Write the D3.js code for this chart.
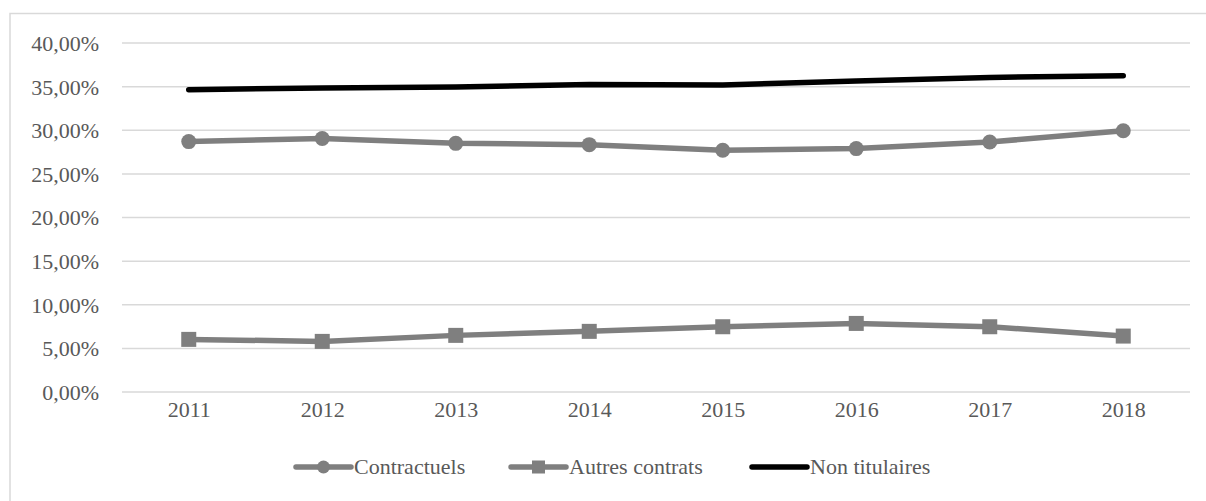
<!DOCTYPE html>
<html><head><meta charset="utf-8">
<script src="https://cdn.jsdelivr.net/npm/d3@7"></script>
<style>
@font-face{font-family:"ChartSerif";src:local("Liberation Serif"),local("LiberationSerif"),local("LiberationSerif-Regular"),local("Tinos"),local("Times New Roman");}
body{margin:0;background:#fff}
</style>
</head><body>
<script>
const years = ["2011","2012","2013","2014","2015","2016","2017","2018"];
const contractuels = [28.7, 29.05, 28.5, 28.35, 27.7, 27.9, 28.65, 29.95];
const autresContrats = [6.03, 5.80, 6.49, 6.95, 7.48, 7.86, 7.48, 6.41];
const nonTitulaires = [34.65, 34.85, 34.95, 35.25, 35.2, 35.65, 36.05, 36.25];
const yTicks = [0, 5, 10, 15, 20, 25, 30, 35, 40];
const seriesNames = ["Contractuels", "Autres contrats", "Non titulaires"];

const TXT = "#595959";
const FF = '"Times New Roman", "Liberation Serif", Tinos, ChartSerif, Times, serif';
const W = 1206, H = 501;
const svg = d3.select("body").append("svg").attr("width", W).attr("height", H);

svg.append("rect").attr("x", 10).attr("y", 13.5).attr("width", 1210).attr("height", 500)
  .attr("fill", "none").attr("stroke", "#d9d9d9").attr("stroke-width", 1.5);

const x = d3.scalePoint().domain(years).range([122, 1190]).padding(0.5);
const y = d3.scaleLinear().domain([0, 40]).range([392, 43]);
const fmt = v => v.toFixed(2).replace(".", ",") + "%";

svg.append("g").selectAll("line").data(yTicks).join("line")
  .attr("x1", 122).attr("x2", 1190)
  .attr("y1", d => y(d)).attr("y2", d => y(d))
  .attr("stroke", "#d9d9d9").attr("stroke-width", 1.5);

const yAxis = d3.axisLeft(y).tickValues(yTicks).tickFormat(fmt).tickSize(0).tickPadding(0);
const ya = svg.append("g").attr("transform", "translate(99,0)").call(yAxis)
  .attr("font-family", FF).attr("font-size", 22);
ya.select(".domain").remove();
ya.selectAll("text").style("font-family", FF).style("font-size", "22px").attr("fill", TXT).attr("dy", "0.34em");

const xAxis = d3.axisBottom(x).tickSize(0).tickPadding(0);
const xa = svg.append("g").attr("transform", "translate(0,401)").call(xAxis)
  .attr("font-family", FF).attr("font-size", 22);
xa.select(".domain").remove();
xa.selectAll("text").style("font-family", FF).style("font-size", "22px").attr("fill", TXT).attr("dy", "0.72em");

const line = d3.line().x((d, i) => x(years[i])).y(d => y(d));
const gray = "#7f7f7f";

svg.append("path").datum(autresContrats).attr("d", line).attr("fill", "none")
  .attr("stroke", gray).attr("stroke-width", 5.5).attr("stroke-linejoin", "round");
svg.append("g").selectAll("rect").data(autresContrats).join("rect")
  .attr("x", (d, i) => x(years[i]) - 7.5).attr("y", d => y(d) - 7.5)
  .attr("width", 15).attr("height", 15).attr("fill", gray);

svg.append("path").datum(contractuels).attr("d", line).attr("fill", "none")
  .attr("stroke", gray).attr("stroke-width", 5.5).attr("stroke-linejoin", "round");
svg.append("g").selectAll("circle").data(contractuels).join("circle")
  .attr("cx", (d, i) => x(years[i])).attr("cy", d => y(d)).attr("r", 7.5).attr("fill", gray);

svg.append("path").datum(nonTitulaires).attr("d", line).attr("fill", "none")
  .attr("stroke", "#000").attr("stroke-width", 5.5).attr("stroke-linejoin", "round").attr("stroke-linecap", "round");

const legY = 467;
const legItems = [
  {name: seriesNames[0], x0: 296, color: gray, marker: "circle"},
  {name: seriesNames[1], x0: 511, color: gray, marker: "square"},
  {name: seriesNames[2], x0: 752, color: "#000", marker: "none"}
];
const lg = svg.append("g");
legItems.forEach(it => {
  const g = lg.append("g");
  g.append("line").attr("x1", it.x0).attr("x2", it.x0 + 55).attr("y1", legY).attr("y2", legY)
    .attr("stroke", it.color).attr("stroke-width", 5.5).attr("stroke-linecap", "round");
  if (it.marker === "circle") g.append("circle").attr("cx", it.x0 + 27.5).attr("cy", legY).attr("r", 6.5).attr("fill", it.color);
  if (it.marker === "square") g.append("rect").attr("x", it.x0 + 21).attr("y", legY - 6.5).attr("width", 13).attr("height", 13).attr("fill", it.color);
  g.append("text").attr("x", it.x0 + 58).attr("y", legY).attr("dy", "0.34em")
    .style("font-family", FF).style("font-size", "22px").attr("fill", TXT).text(it.name);
});
</script>
</body></html>
